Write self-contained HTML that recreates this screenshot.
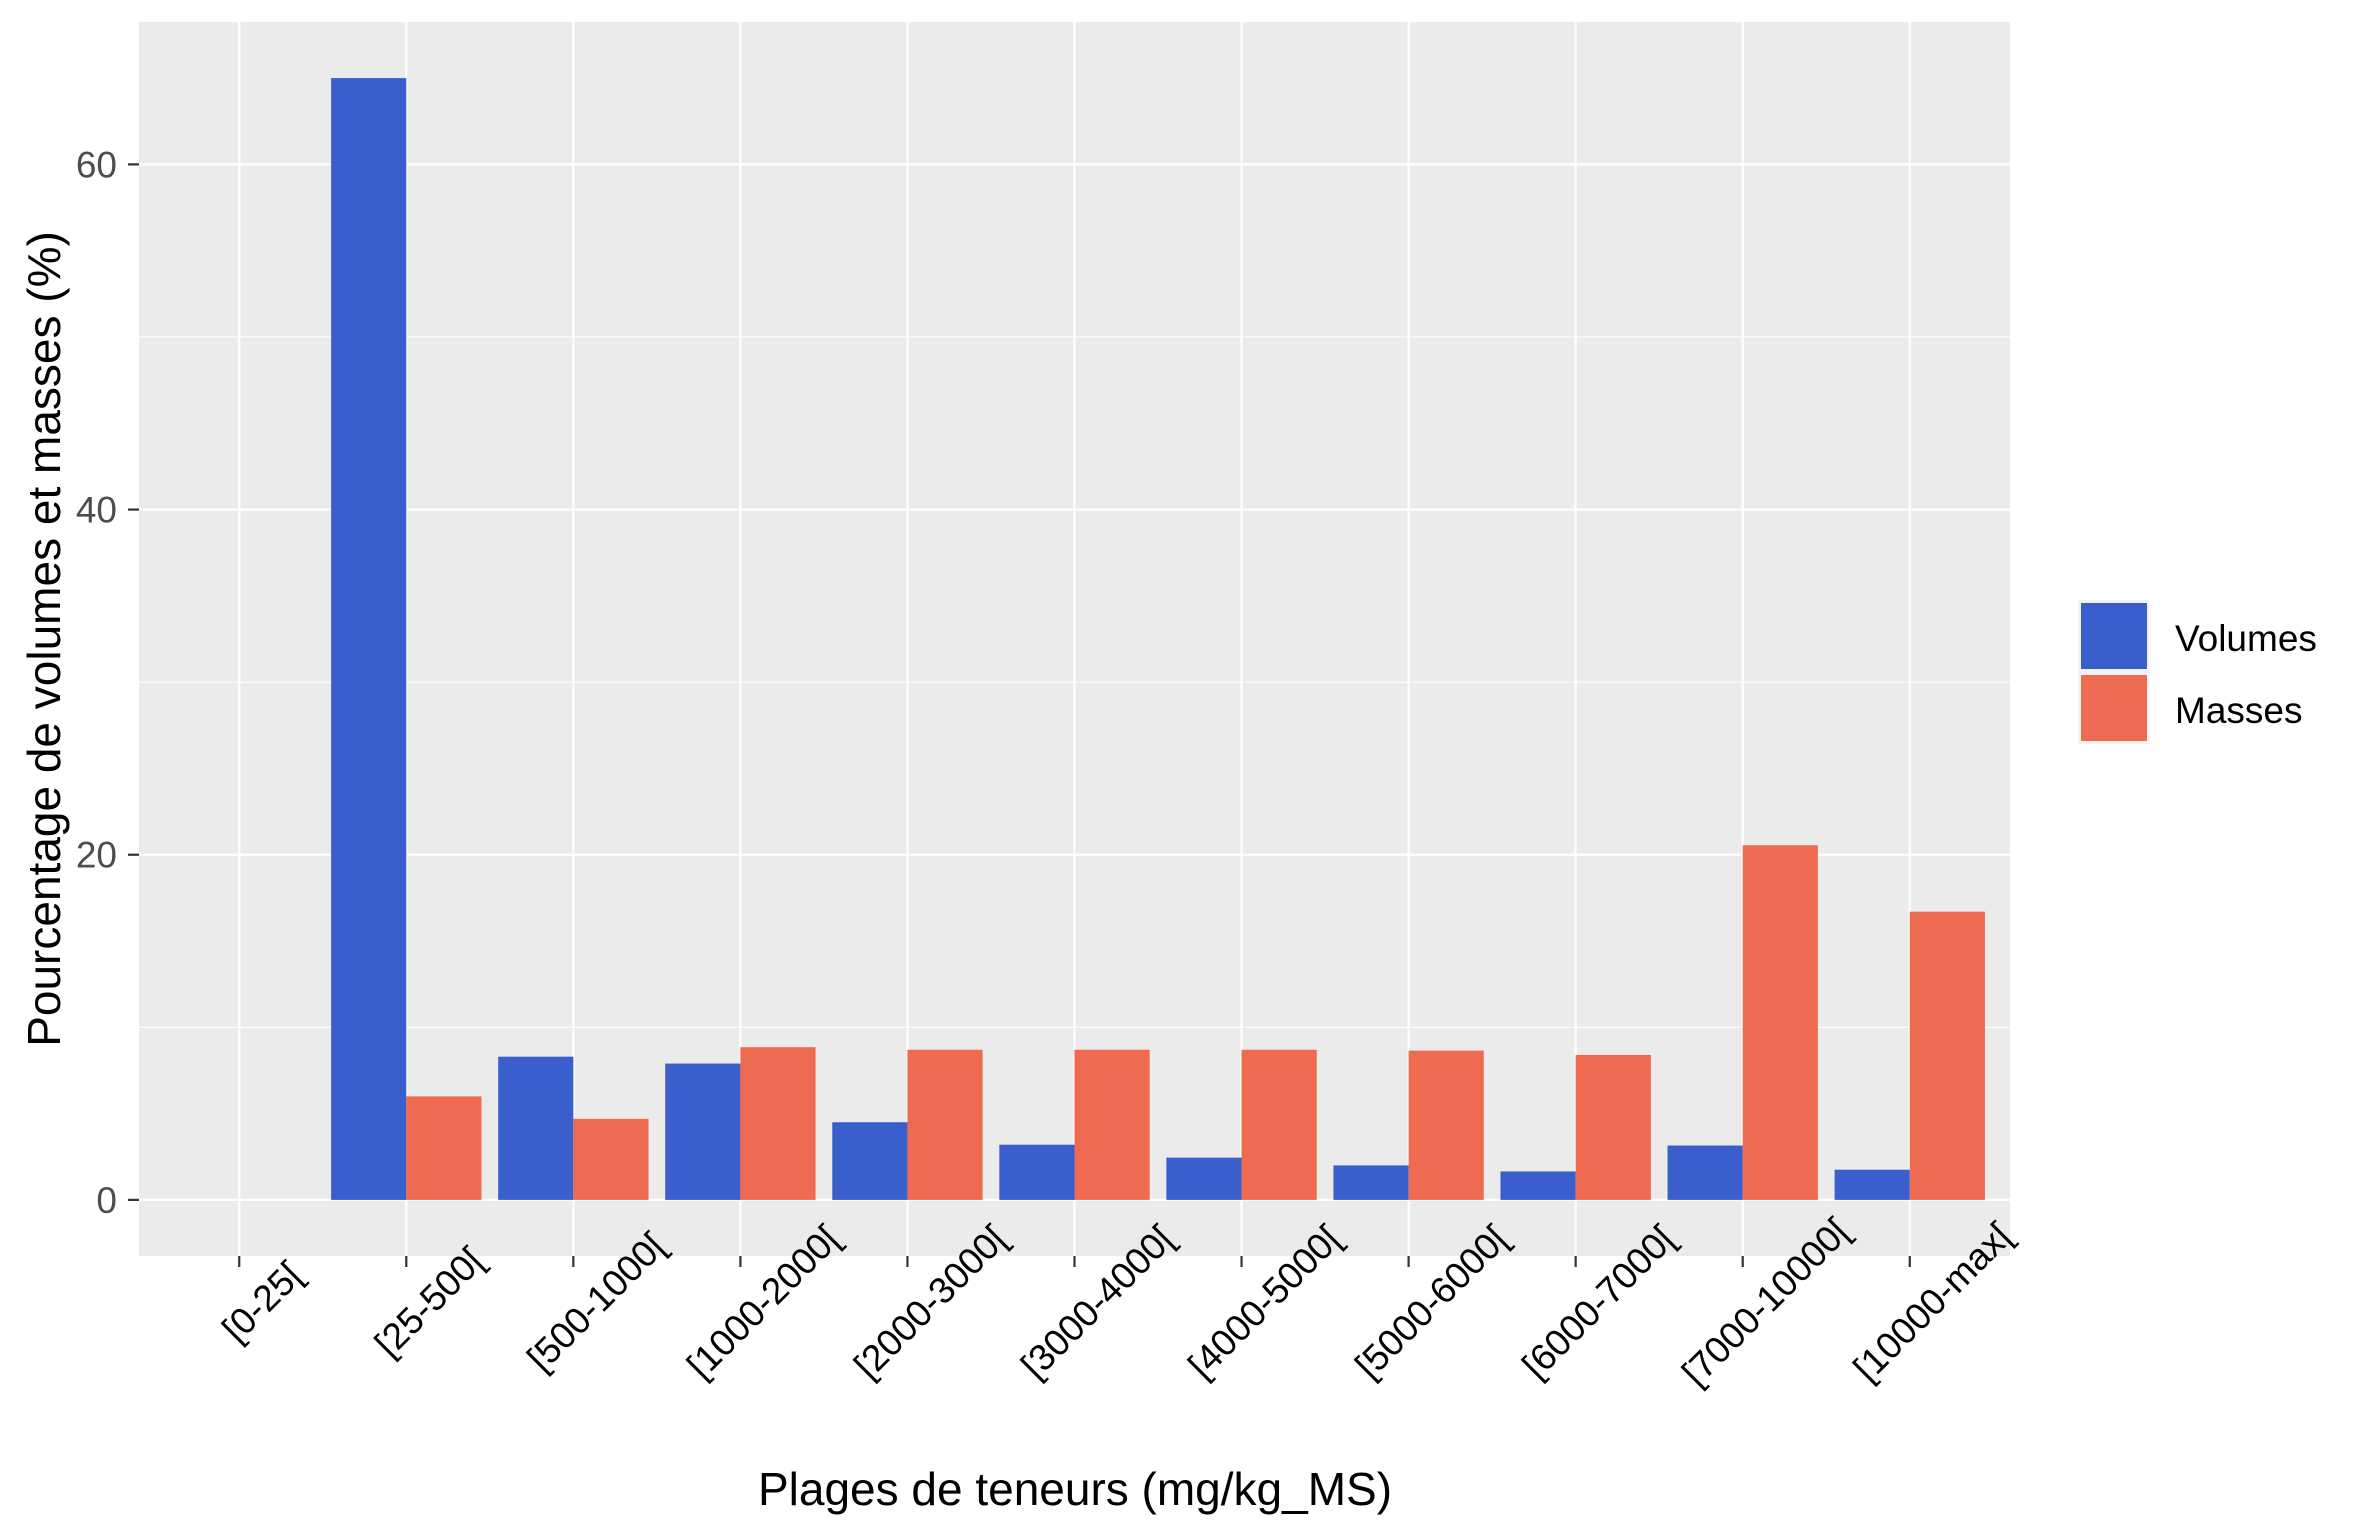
<!DOCTYPE html>
<html><head><meta charset="utf-8"><style>
html,body{margin:0;padding:0;background:#fff;}
svg{display:block;font-family:"Liberation Sans",Arial,sans-serif;}
</style></head><body>
<svg id="chart" width="2362" height="1535" viewBox="0 0 2362 1535" xmlns="http://www.w3.org/2000/svg">
<rect x="0" y="0" width="2362" height="1535" fill="#fff"/>
<rect x="139" y="22" width="1871" height="1234" fill="#EBEBEB"/>
<g id="grid"></g>
<g id="bars"></g>
<g id="axes"></g>
<text x="0" y="0" font-size="46" fill="#000" text-anchor="middle" transform="translate(60,639) rotate(-90)">Pourcentage de volumes et masses (%)</text>
<text x="1075" y="1505" font-size="46" fill="#000" text-anchor="middle">Plages de teneurs (mg/kg_MS)</text>
<g>
  <rect x="2078" y="600" width="71" height="72" fill="#F2F2F2"/>
  <rect x="2081" y="603" width="66" height="66" fill="#3A5FCD"/>
  <rect x="2078" y="672" width="71" height="72" fill="#F2F2F2"/>
  <rect x="2081" y="675" width="66" height="66" fill="#EE6A50"/>
  <text x="2175" y="651" font-size="37" fill="#000">Volumes</text>
  <text x="2175" y="723" font-size="37" fill="#000">Masses</text>
</g>
</svg>
<script>
const categories = ["[0-25[","[25-500[","[500-1000[","[1000-2000[","[2000-3000[","[3000-4000[","[4000-5000[","[5000-6000[","[6000-7000[","[7000-10000[","[10000-max["];
const volumes = [0, 65, 8.3, 7.9, 4.5, 3.2, 2.45, 2.0, 1.65, 3.15, 1.75];
const masses = [0, 6.0, 4.7, 8.85, 8.7, 8.7, 8.7, 8.65, 8.4, 20.55, 16.7];
const yTicks = [0, 20, 40, 60];
const yMinor = [10, 30, 50];

const NS = "http://www.w3.org/2000/svg";
const P = {l:139, r:2010, t:22, b:1256};
const yMax = Math.max(...volumes, ...masses);
const yLo = -0.05*yMax, yHi = yMax*1.05;
const y = v => P.b - (v - yLo)/(yHi - yLo)*(P.b - P.t);
const step = (P.r - P.l)/(categories.length - 1 + 1.2);
const x = i => P.l + step*(0.6 + i);
const bw = step*0.45;

function mk(tag, attrs, parent){
  const e = document.createElementNS(NS, tag);
  for (const k in attrs) e.setAttribute(k, attrs[k]);
  parent.appendChild(e);
  return e;
}
const grid = document.getElementById('grid');
const bars = document.getElementById('bars');
const axes = document.getElementById('axes');

yMinor.forEach(v => {
  const l = mk('line', {x1:P.l, x2:P.r, y1:y(v), y2:y(v), stroke:'#fff', 'stroke-width':1.1}, grid);
  
  
});
yTicks.forEach(v => {
  const l = mk('line', {x1:P.l, x2:P.r, y1:y(v), y2:y(v), stroke:'#fff', 'stroke-width':2.2}, grid);
  
  
  const t = mk('line', {x1:P.l-11, x2:P.l, y1:y(v), y2:y(v), stroke:'#333', 'stroke-width':2.2}, axes);
  
  
  const tx = mk('text', {x:117, y:y(v)+13, 'font-size':37, fill:'#4D4D4D', 'text-anchor':'end'}, axes);
  
  
  tx.textContent = v;
});
categories.forEach((c, i) => {
  const l = mk('line', {x1:x(i), x2:x(i), y1:P.t, y2:P.b, stroke:'#fff', 'stroke-width':2.2}, grid);
  
  
  const t = mk('line', {x1:x(i), x2:x(i), y1:P.b, y2:P.b+11, stroke:'#333', 'stroke-width':2.2}, axes);
  
  
  const cx = x(i)+23, cy = 1302;
  const tx = mk('text', {x:0, y:0, 'font-size':37, fill:'#000', 'text-anchor':'middle', 'dominant-baseline':'central', transform:`translate(${cx},${cy}) rotate(-45)`}, axes);
  
  
  tx.textContent = c;

  const vb = mk('rect', {x:x(i)-bw, y:Math.min(y(volumes[i]), y(0)), width:bw, height:Math.abs(y(0)-y(volumes[i])), fill:'#3A5FCD'}, bars);
  
  
  const mb = mk('rect', {x:x(i), y:Math.min(y(masses[i]), y(0)), width:bw, height:Math.abs(y(0)-y(masses[i])), fill:'#EE6A50'}, bars);
  
  
});
</script>
</body></html>
